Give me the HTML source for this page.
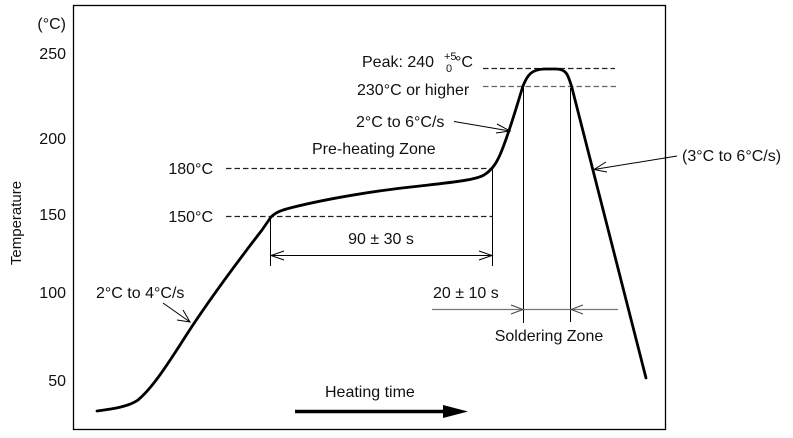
<!DOCTYPE html>
<html><head><meta charset="utf-8"><style>
html,body{margin:0;padding:0;background:#fff;}
svg{display:block;}
text{font-family:"Liberation Sans",Arial,sans-serif;fill:#111;}
</style></head><body>
<svg width="793" height="438" viewBox="0 0 793 438" xmlns="http://www.w3.org/2000/svg">
<rect x="73.5" y="5.5" width="592" height="424" fill="none" stroke="#000" stroke-width="1.3"/>
<!-- y labels -->
<g font-size="16" text-anchor="end">
<text x="66" y="29">(°C)</text>
<text x="66" y="59">250</text>
<text x="66" y="144">200</text>
<text x="66" y="220">150</text>
<text x="66" y="298">100</text>
<text x="66" y="386">50</text>
</g>
<text x="0" y="0" font-size="15" text-anchor="middle" transform="translate(21,223) rotate(-90)">Temperature</text>

<!-- dashed lines -->
<g fill="none" stroke-width="1.2" stroke-dasharray="5.5 3">
<line x1="226" y1="168.5" x2="492" y2="168.5" stroke="#222"/>
<line x1="226" y1="216.5" x2="492" y2="216.5" stroke="#222"/>
<line x1="483" y1="68.5" x2="615" y2="68.5" stroke="#222"/>
<line x1="483" y1="86.5" x2="618" y2="86.5" stroke="#666"/>
</g>

<!-- vertical lines -->
<g stroke="#000" stroke-width="1">
<line x1="270.5" y1="217" x2="270.5" y2="266"/>
<line x1="492.5" y1="168" x2="492.5" y2="266"/>
<line x1="523.5" y1="88" x2="523.5" y2="323"/>
<line x1="570.5" y1="88" x2="570.5" y2="322"/>
</g>

<!-- 90 +- 30 arrow -->
<g stroke="#000" stroke-width="1" fill="none">
<line x1="271" y1="255.5" x2="492" y2="255.5"/>
<polyline points="284,251 271,255.5 284,260"/>
<polyline points="479,251 492,255.5 479,260"/>
</g>
<text x="381" y="244" font-size="16" text-anchor="middle">90 ± 30 s</text>

<!-- 20 +- 10 arrow -->
<g stroke="#777" stroke-width="1.2" fill="none">
<line x1="432" y1="309.5" x2="618" y2="309.5"/>
</g>
<g stroke="#444" stroke-width="1" fill="none">
<polyline points="511,305 523,309.5 511,314"/>
<polyline points="583,305 571,309.5 583,314"/>
</g>
<text x="433" y="298" font-size="16">20 ± 10 s</text>
<text x="549" y="341" font-size="16" text-anchor="middle">Soldering Zone</text>

<!-- curve -->
<path d="M97,411 C112,409 128,407 138,400 C150,390 162,373 180,345 C205,305 235,265 262,230 L271,217 C276,212 282,210 292,207.5 C330,198 380,190 420,186 C455,182 475,180 484,175 C492,170 497,163 502,150 C510,130 517,105 523,86 C527,76 531,69 545,69 L556,69 C566,69 568,74 572,88 L646,378" fill="none" stroke="#000" stroke-width="2.8" stroke-linejoin="round" stroke-linecap="round"/>

<!-- annotations -->
<text x="362" y="67" font-size="16">Peak: 240</text>
<text x="444" y="60" font-size="11">+5</text>
<text x="446" y="72" font-size="11">0</text>
<text x="455" y="67" font-size="16">°C</text>
<text x="357" y="95" font-size="16">230°C or higher</text>
<text x="356" y="127" font-size="16">2°C to 6°C/s</text>
<g stroke="#000" stroke-width="1" fill="none">
<line x1="454" y1="121.5" x2="510" y2="131"/>
<polyline points="497,124 510,131 496,133"/>
</g>
<text x="312" y="154" font-size="16">Pre-heating Zone</text>
<text x="213" y="174" font-size="16" text-anchor="end">180°C</text>
<text x="213" y="222" font-size="16" text-anchor="end">150°C</text>
<text x="96" y="298" font-size="16">2°C to 4°C/s</text>
<g stroke="#000" stroke-width="1" fill="none">
<line x1="163" y1="303" x2="190" y2="322"/>
<polyline points="177,320 190,322 183,310"/>
</g>
<text x="682" y="161" font-size="16">(3°C to 6°C/s)</text>
<g stroke="#000" stroke-width="1" fill="none">
<line x1="677" y1="156" x2="594" y2="169.5"/>
<polyline points="606,162 594,169.5 607,172"/>
</g>

<!-- heating time -->
<text x="325" y="397" font-size="16">Heating time</text>
<line x1="295" y1="411.5" x2="446" y2="411.5" stroke="#000" stroke-width="3.5"/>
<polygon points="443,405 468,411.5 443,418" fill="#000"/>
</svg>
</body></html>
